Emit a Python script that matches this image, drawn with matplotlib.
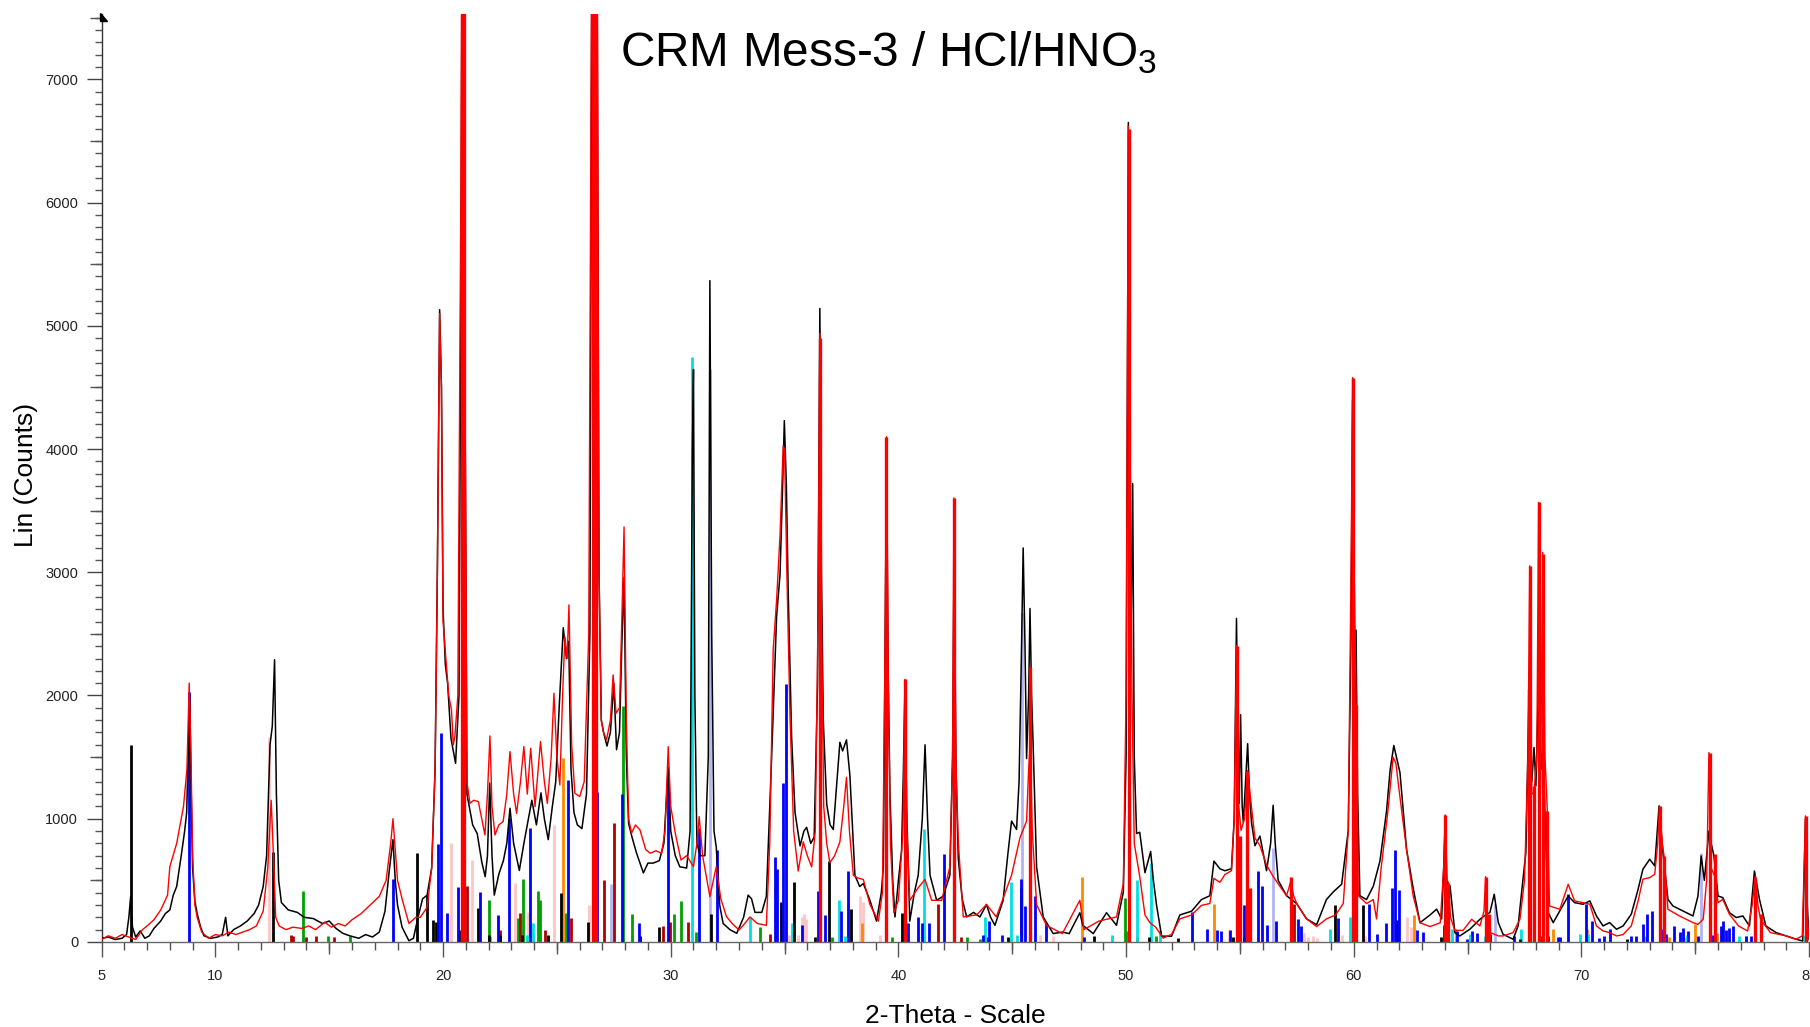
import matplotlib.pyplot as plt
from matplotlib.ticker import MultipleLocator, FixedLocator, NullLocator
from matplotlib.patches import Polygon

plt.rcParams['font.family'] = ['Liberation Sans', 'DejaVu Sans']
plt.rcParams['mathtext.default'] = 'regular'

# measured scan (black), (2theta, counts)
black_scan = [
    (5.0, 30), (5.3, 40), (5.6, 20), (5.9, 30), (6.1, 60), (6.2, 200), (6.28, 370), (6.36, 120),
    (6.5, 40), (6.7, 90), (6.9, 30), (7.1, 50), (7.3, 110), (7.6, 170), (7.8, 230), (8.0, 260),
    (8.15, 380), (8.3, 450), (8.5, 700), (8.65, 900), (8.74, 1050), (8.8, 1500), (8.87, 2000),
    (8.93, 1300), (9.0, 600), (9.1, 330), (9.2, 230), (9.35, 120), (9.5, 50), (9.8, 30),
    (10.1, 40), (10.3, 60), (10.45, 200), (10.55, 50), (10.8, 100), (11.1, 130), (11.4, 170),
    (11.7, 230), (11.9, 300), (12.1, 450), (12.25, 700), (12.4, 1600), (12.5, 1750), (12.6, 2290),
    (12.68, 1200), (12.78, 500), (12.9, 320), (13.2, 260), (13.6, 240), (13.9, 200), (14.3, 190),
    (14.7, 150), (15.0, 170), (15.3, 110), (15.6, 70), (15.9, 50), (16.3, 30), (16.6, 60),
    (16.9, 40), (17.2, 80), (17.45, 250), (17.65, 600), (17.8, 830), (17.9, 500), (18.0, 300),
    (18.2, 120), (18.5, 10), (18.7, 30), (18.9, 200), (19.1, 350), (19.3, 380), (19.5, 600),
    (19.65, 1400), (19.75, 3000), (19.85, 5130), (19.93, 4500), (20.0, 2700), (20.1, 2250),
    (20.2, 2100), (20.35, 1650), (20.55, 1450), (20.7, 2000), (20.8, 6000), (20.86, 9500),
    (20.95, 5000), (21.05, 1200), (21.3, 950), (21.5, 880), (21.7, 650), (21.85, 530),
    (21.95, 700), (22.05, 1290), (22.15, 700), (22.25, 380), (22.45, 550), (22.65, 660),
    (22.8, 800), (22.94, 1085), (23.1, 800), (23.35, 580), (23.55, 800), (23.75, 1000),
    (23.9, 1150), (24.1, 950), (24.3, 1210), (24.45, 1000), (24.62, 830), (24.8, 1100),
    (24.95, 1300), (25.1, 1900), (25.28, 2550), (25.42, 2300), (25.52, 2440), (25.62, 1400),
    (25.75, 1050), (25.9, 950), (26.1, 920), (26.3, 1200), (26.45, 2500), (26.55, 9000),
    (26.65, 15000), (26.75, 9000), (26.85, 3000), (26.95, 1800), (27.05, 1700), (27.2, 1590),
    (27.35, 1700), (27.5, 2100), (27.62, 1560), (27.75, 1700), (27.85, 2400), (27.95, 2960),
    (28.05, 1500), (28.15, 960), (28.3, 850), (28.5, 720), (28.8, 560), (29.0, 640),
    (29.23, 640), (29.5, 660), (29.7, 800), (29.89, 1420), (30.0, 900), (30.2, 700),
    (30.4, 610), (30.7, 600), (30.85, 900), (30.95, 4000), (31.0, 4645), (31.06, 2000),
    (31.15, 800), (31.3, 700), (31.5, 700), (31.65, 1500), (31.72, 5366), (31.8, 2500),
    (31.9, 900), (32.0, 770), (32.15, 300), (32.3, 150), (32.6, 100), (32.9, 70), (33.2, 200),
    (33.4, 380), (33.55, 350), (33.7, 240), (34.0, 240), (34.2, 370), (34.43, 1490),
    (34.65, 2640), (34.8, 2980), (34.9, 3600), (34.99, 4230), (35.08, 3700), (35.16, 2840),
    (35.31, 1660), (35.46, 1050), (35.68, 780), (35.85, 900), (35.97, 930), (36.15, 800),
    (36.3, 850), (36.45, 2100), (36.55, 5140), (36.62, 3000), (36.7, 1800), (36.85, 1120),
    (37.0, 950), (37.14, 913), (37.3, 1300), (37.43, 1620), (37.55, 1550), (37.72, 1640),
    (37.87, 1350), (38.09, 540), (38.3, 450), (38.46, 474), (38.75, 338), (39.04, 169),
    (39.25, 400), (39.34, 609), (39.42, 2500), (39.48, 3950), (39.55, 2200), (39.63, 1200),
    (39.75, 500), (39.85, 203), (40.0, 500), (40.14, 744), (40.22, 1400), (40.29, 2100),
    (40.36, 1100), (40.5, 169), (40.7, 400), (40.87, 541), (41.05, 1000), (41.17, 1600),
    (41.28, 1000), (41.39, 541), (41.68, 338), (41.97, 372), (42.26, 541), (42.38, 1500),
    (42.45, 3210), (42.53, 1400), (42.63, 677), (42.8, 350), (43.0, 203), (43.3, 240),
    (43.58, 203), (43.87, 304), (44.05, 200), (44.24, 135), (44.6, 338), (44.8, 700),
    (44.97, 981), (45.19, 913), (45.3, 1300), (45.4, 2300), (45.48, 3197), (45.56, 2400),
    (45.63, 1488), (45.72, 2000), (45.78, 2706), (45.85, 2000), (45.92, 1590), (46.07, 609),
    (46.36, 203), (46.8, 68), (47.2, 80), (47.5, 68), (47.97, 237), (48.1, 135), (48.56, 68),
    (49.14, 237), (49.58, 135), (49.88, 406), (50.0, 1500), (50.1, 6650), (50.2, 2200),
    (50.29, 3720), (50.36, 1500), (50.46, 880), (50.6, 890), (50.83, 562), (51.08, 734),
    (51.2, 500), (51.34, 297), (51.56, 47), (52.0, 47), (52.36, 219), (52.88, 250),
    (53.31, 344), (53.68, 375), (53.86, 656), (54.12, 594), (54.34, 578), (54.63, 594),
    (54.75, 1000), (54.85, 2625), (54.92, 1500), (54.97, 1125), (55.03, 1844), (55.1, 1100),
    (55.15, 969), (55.25, 1300), (55.34, 1609), (55.42, 1200), (55.51, 969), (55.66, 781),
    (55.88, 859), (56.17, 578), (56.35, 800), (56.46, 1109), (56.55, 800), (56.68, 500),
    (57.05, 375), (57.49, 312), (57.93, 187), (58.37, 140), (58.8, 344), (59.1, 406),
    (59.47, 469), (59.76, 906), (59.88, 2500), (59.95, 4400), (60.02, 1500), (60.1, 2531),
    (60.17, 1200), (60.27, 375), (60.56, 344), (60.86, 453), (61.15, 656), (61.44, 1062),
    (61.6, 1400), (61.76, 1594), (61.9, 1480), (62.03, 1375), (62.32, 750), (62.61, 437),
    (62.91, 156), (63.35, 219), (63.64, 266), (63.86, 187), (63.95, 600), (64.02, 1000),
    (64.08, 500), (64.15, 453), (64.23, 455), (64.44, 76), (64.66, 49), (65.1, 103),
    (65.54, 184), (65.83, 225), (65.98, 238), (66.17, 387), (66.35, 157), (66.56, 62),
    (67.0, 22), (67.22, 130), (67.41, 468), (67.56, 725), (67.7, 2024), (67.82, 1300),
    (67.92, 1578), (68.0, 1266), (68.14, 2280), (68.22, 1400), (68.32, 1580), (68.42, 900),
    (68.54, 238), (68.76, 157), (69.05, 252), (69.42, 373), (69.7, 319), (70.07, 306),
    (70.37, 333), (70.66, 211), (70.95, 130), (71.24, 157), (71.54, 103), (71.83, 130),
    (72.19, 225), (72.49, 428), (72.7, 590), (73.0, 671), (73.22, 617), (73.41, 1104),
    (73.5, 900), (73.58, 725), (73.8, 346), (74.02, 292), (74.31, 265), (74.61, 238),
    (74.9, 211), (75.12, 373), (75.26, 698), (75.4, 500), (75.6, 900), (75.7, 800),
    (75.82, 698), (76.0, 373), (76.21, 360), (76.5, 238), (76.8, 198), (77.09, 211),
    (77.38, 130), (77.6, 576), (77.82, 346), (78.1, 130), (78.55, 76), (78.99, 49),
    (79.43, 22), (79.72, 8), (79.84, 1000), (79.92, 300), (80.0, 20),
]

# second scan (red)
red_scan = [
    (5.0, 20), (5.3, 50), (5.6, 30), (5.9, 60), (6.2, 40), (6.5, 20), (6.8, 100), (7.0, 130),
    (7.3, 180), (7.6, 260), (7.9, 380), (8.0, 611), (8.3, 800), (8.6, 1100), (8.75, 1400),
    (8.85, 2100), (8.92, 1600), (9.0, 700), (9.1, 300), (9.2, 200), (9.4, 80), (9.7, 30),
    (10.0, 60), (10.3, 50), (10.6, 80), (10.9, 60), (11.2, 80), (11.5, 100), (11.8, 130),
    (12.1, 250), (12.3, 600), (12.45, 1150), (12.55, 700), (12.65, 200), (12.8, 130),
    (13.1, 100), (13.4, 120), (13.8, 110), (14.1, 130), (14.4, 100), (14.8, 160), (15.1, 120),
    (15.4, 150), (15.7, 130), (16.0, 180), (16.4, 230), (16.8, 300), (17.2, 370), (17.5, 500),
    (17.7, 800), (17.8, 1000), (17.9, 750), (18.0, 500), (18.2, 350), (18.5, 150), (18.8, 200),
    (19.0, 200), (19.3, 280), (19.5, 600), (19.65, 1400), (19.75, 3000), (19.85, 5100),
    (19.93, 4500), (20.0, 2600), (20.15, 2235), (20.25, 2000), (20.37, 1883), (20.45, 1600),
    (20.52, 1667), (20.65, 2000), (20.78, 6000), (20.86, 9500), (20.95, 5000), (21.05, 1300),
    (21.18, 1125), (21.35, 1150), (21.55, 1139), (21.7, 1000), (21.84, 868), (21.95, 1200),
    (22.06, 1672), (22.15, 1100), (22.28, 868), (22.45, 950), (22.64, 977), (22.8, 1200),
    (22.94, 1545), (23.1, 1200), (23.23, 1044), (23.4, 1300), (23.55, 1585), (23.7, 1200),
    (23.85, 1572), (24.04, 1098), (24.18, 1400), (24.28, 1626), (24.45, 1300), (24.58, 1125),
    (24.75, 1500), (24.87, 2018), (25.0, 1500), (25.13, 1274), (25.25, 2000), (25.35, 2478),
    (25.45, 2300), (25.53, 2735), (25.65, 1600), (25.79, 1207), (26.0, 1180), (26.2, 1300),
    (26.4, 2500), (26.55, 9000), (26.65, 15000), (26.75, 9000), (26.85, 3000), (26.95, 1800),
    (27.05, 1700), (27.18, 1640), (27.35, 1800), (27.47, 2167), (27.6, 1856), (27.75, 1900),
    (27.85, 2600), (27.95, 3367), (28.05, 1800), (28.15, 1000), (28.28, 882), (28.45, 950),
    (28.65, 909), (28.9, 750), (29.1, 720), (29.35, 740), (29.6, 720), (29.75, 900),
    (29.89, 1585), (30.0, 1100), (30.2, 882), (30.45, 665), (30.7, 700), (31.0, 611),
    (31.15, 800), (31.25, 1017), (31.4, 700), (31.72, 368), (32.0, 611), (32.2, 350),
    (32.45, 205), (32.7, 150), (33.0, 97), (33.25, 150), (33.48, 203), (33.8, 150),
    (34.2, 135), (34.35, 800), (34.5, 2368), (34.65, 2774), (34.8, 3300), (34.94, 4026),
    (35.0, 4000), (35.1, 3000), (35.24, 1827), (35.4, 900), (35.6, 575), (35.82, 812),
    (36.0, 700), (36.19, 609), (36.35, 900), (36.46, 2500), (36.55, 4939), (36.62, 2600),
    (36.72, 1100), (36.85, 800), (36.99, 643), (37.2, 700), (37.43, 812), (37.6, 1100),
    (37.72, 1336), (37.85, 900), (38.02, 541), (38.2, 520), (38.46, 507), (38.75, 304),
    (39.12, 169), (39.3, 400), (39.42, 2500), (39.48, 4100), (39.55, 2200), (39.65, 800),
    (39.8, 237), (40.0, 338), (40.2, 900), (40.29, 2131), (40.38, 900), (40.5, 338),
    (40.87, 440), (41.17, 507), (41.46, 338), (41.9, 338), (42.26, 609), (42.38, 1500),
    (42.44, 3603), (42.52, 1500), (42.63, 812), (42.85, 203), (43.44, 220), (43.87, 304),
    (44.3, 203), (44.97, 541), (45.34, 846), (45.63, 981), (45.72, 1400), (45.79, 1620),
    (45.88, 900), (46.07, 304), (46.5, 135), (47.2, 68), (47.97, 338), (48.15, 100),
    (48.8, 169), (49.58, 203), (49.88, 474), (50.0, 2000), (50.1, 6620), (50.18, 4000),
    (50.26, 2000), (50.36, 800), (50.6, 531), (50.83, 219), (51.05, 156), (51.3, 120),
    (51.63, 31), (52.0, 62), (52.36, 187), (52.88, 219), (53.31, 297), (53.68, 312),
    (53.86, 516), (54.12, 484), (54.34, 547), (54.63, 578), (54.75, 1000), (54.85, 2406),
    (54.95, 1100), (55.05, 906), (55.2, 1000), (55.34, 1390), (55.51, 1094), (55.66, 844),
    (55.88, 781), (56.17, 625), (56.46, 531), (56.75, 453), (57.05, 375), (57.23, 490),
    (57.35, 380), (57.49, 312), (57.93, 187), (58.37, 125), (58.8, 187), (59.2, 219),
    (59.54, 312), (59.76, 900), (59.88, 3000), (59.95, 4580), (60.02, 3000), (60.1, 2000),
    (60.2, 375), (60.56, 312), (60.86, 344), (61.0, 187), (61.2, 594), (61.5, 1062),
    (61.73, 1500), (61.85, 1450), (62.0, 1219), (62.32, 750), (62.61, 375), (62.91, 156),
    (63.35, 125), (63.8, 156), (63.95, 600), (64.02, 1031), (64.1, 500), (64.15, 484),
    (64.25, 200), (64.44, 94), (64.8, 94), (65.18, 184), (65.54, 130), (65.72, 250),
    (65.79, 530), (65.86, 200), (66.0, 76), (66.35, 49), (66.56, 49), (67.0, 76), (67.3, 184),
    (67.5, 500), (67.65, 1500), (67.73, 3052), (67.82, 1200), (67.92, 1212), (68.04, 1500),
    (68.12, 3566), (68.2, 1200), (68.3, 3160), (68.4, 1500), (68.5, 1077), (68.6, 292),
    (69.05, 265), (69.42, 468), (69.7, 333), (70.07, 319), (70.37, 306), (70.66, 130),
    (70.95, 89), (71.24, 76), (71.54, 49), (71.83, 60), (72.19, 130), (72.49, 333),
    (72.7, 509), (73.0, 522), (73.22, 549), (73.35, 800), (73.43, 1104), (73.55, 800),
    (73.63, 698), (73.8, 265), (74.31, 211), (74.9, 157), (75.12, 143), (75.35, 184),
    (75.5, 500), (75.6, 1537), (75.7, 600), (75.85, 536), (76.0, 319), (76.21, 346),
    (76.5, 225), (76.9, 130), (77.3, 89), (77.5, 300), (77.64, 536), (77.75, 300),
    (77.87, 184), (78.3, 76), (78.99, 50), (79.43, 22), (79.7, 50), (79.84, 1023),
    (79.92, 200), (80.0, 20),
]

# reference patterns (sticks), (2theta, counts)
quartz_sticks = [
    (20.84, 9000), (20.92, 9000), (26.58, 9000), (26.72, 9000), (36.54, 4900), (39.47, 4100),
    (40.29, 2130), (42.45, 3600), (45.79, 2230), (50.14, 6600), (54.87, 2400), (55.0, 860),
    (55.33, 1390), (55.45, 440), (57.23, 525), (59.96, 4580), (60.1, 1920), (64.03, 1030),
    (64.15, 480), (65.79, 530), (65.94, 225), (67.68, 2050), (67.73, 3050), (67.92, 1266),
    (68.12, 3566), (68.3, 3150), (68.51, 1063), (73.43, 1104), (73.63, 700), (75.64, 1537),
    (75.85, 712), (77.64, 522), (77.87, 225), (79.86, 1023),
]
blue_sticks = [
    (8.84, 2030), (17.78, 508), (19.8, 792), (19.92, 1699), (20.18, 232), (20.67, 449),
    (21.62, 408), (22.42, 219), (22.91, 1004), (23.83, 922), (25.5, 1315), (26.66, 1071),
    (26.76, 1220), (27.88, 1198), (28.6, 157), (29.89, 1355), (31.25, 922), (32.03, 746),
    (34.56, 693), (34.68, 592), (34.94, 1286), (35.05, 2097), (35.78, 135), (36.48, 413),
    (36.78, 220), (37.5, 254), (37.8, 575), (40.43, 152), (40.87, 203), (41.02, 150),
    (41.35, 150), (42.01, 710), (43.7, 60), (43.98, 169), (44.55, 60), (45.37, 507),
    (45.55, 288), (45.99, 372), (46.5, 150), (48.15, 40), (52.88, 244), (53.54, 109),
    (54.0, 100), (54.15, 90), (54.58, 95), (55.18, 297), (55.8, 578), (55.95, 453),
    (56.17, 140), (56.6, 172), (57.53, 187), (57.7, 130), (59.3, 194), (60.0, 100),
    (60.68, 312), (61.0, 62), (61.41, 156), (61.68, 437), (61.79, 750), (62.0, 422),
    (62.8, 100), (63.05, 80), (63.96, 140), (64.54, 89), (64.97, 27), (65.2, 89), (65.4, 76),
    (65.98, 62), (67.04, 49), (68.26, 49), (68.55, 49), (68.96, 40), (69.06, 40), (69.42, 387),
    (70.22, 306), (70.48, 170), (70.78, 35), (71.0, 49), (71.24, 103), (72.19, 49),
    (72.41, 49), (72.7, 143), (72.88, 225), (73.1, 252), (73.5, 108), (73.7, 68),
    (74.06, 130), (74.31, 84), (74.45, 116), (74.7, 89), (75.12, 45), (75.78, 60),
    (76.12, 130), (76.21, 170), (76.36, 97), (76.48, 116), (76.65, 130), (77.25, 50),
    (77.45, 45), (77.87, 60),
]
black_sticks = [
    (6.28, 1600), (12.55, 733), (18.84, 720), (19.3, 381), (19.55, 178), (19.7, 165),
    (20.7, 97), (21.52, 273), (22.03, 60), (22.5, 60), (23.45, 60), (24.6, 60), (25.18, 400),
    (26.35, 165), (28.65, 50), (29.48, 119), (31.75, 227), (34.84, 321), (35.43, 490),
    (36.35, 40), (36.96, 660), (37.92, 270), (40.14, 237), (43.95, 40), (44.8, 40),
    (45.4, 440), (48.6, 50), (51.0, 40), (52.3, 30), (54.7, 40), (55.2, 40), (59.17, 297),
    (60.39, 297), (61.92, 180), (63.85, 40), (66.0, 40), (67.3, 20), (72.0, 20),
]
pink_sticks = [
    (12.36, 1666), (19.86, 346), (20.33, 800), (21.25, 665), (23.14, 476), (23.75, 246),
    (24.88, 950), (26.42, 300), (28.31, 60), (28.6, 80), (35.0, 169), (35.2, 60),
    (35.58, 60), (35.75, 200), (35.85, 230), (35.92, 190), (38.3, 372), (38.45, 321),
    (39.2, 60), (46.2, 60), (46.8, 50), (53.98, 60), (54.5, 100), (56.6, 100), (57.6, 80),
    (57.8, 70), (58.0, 40), (58.2, 50), (58.4, 30), (59.5, 60), (60.5, 50), (62.32, 203),
    (62.52, 120),
]
green_sticks = [
    (13.86, 413), (14.96, 50), (15.9, 50), (22.03, 340), (23.27, 192), (23.52, 508),
    (24.15, 416), (24.27, 340), (25.42, 232), (27.91, 1915), (28.31, 227), (30.15, 227),
    (30.46, 335), (31.12, 80), (33.92, 118), (37.1, 40), (39.7, 40), (43.0, 40), (43.57, 25),
    (49.95, 359), (50.0, 90), (51.3, 50),
]
darkred_sticks = [
    (13.3, 60), (13.4, 50), (14.0, 40), (14.4, 50), (15.2, 40), (21.06, 454), (22.5, 97),
    (23.38, 232), (24.46, 97), (25.62, 192), (27.07, 503), (27.5, 968), (29.65, 130),
    (29.95, 165), (30.75, 165), (34.35, 68), (41.75, 304), (42.76, 40), (50.47, 40),
    (57.37, 312),
]
cyan_sticks = [
    (22.06, 50), (23.7, 60), (23.95, 151), (30.95, 4750), (33.48, 203), (35.32, 152),
    (37.37, 338), (37.65, 50), (41.12, 913), (43.82, 203), (44.94, 490), (45.2, 60),
    (49.4, 60), (50.49, 500), (51.08, 640), (51.5, 100), (58.95, 109), (59.83, 203),
    (64.3, 109), (64.49, 103), (65.1, 62), (65.75, 50), (67.34, 103), (69.94, 62),
    (70.3, 68), (72.82, 50), (74.65, 60), (76.9, 50), (77.25, 50), (79.8, 60),
]
orange_sticks = [
    (25.29, 1490), (37.8, 304), (38.4, 152), (48.05, 524), (53.87, 312), (55.02, 312),
    (62.64, 219), (68.76, 108), (70.26, 108), (73.85, 40), (74.99, 143), (75.95, 76),
]
lavender_sticks = [
    (27.36, 470), (31.72, 4650), (45.45, 2673), (56.46, 766), (66.2, 306), (73.08, 40),
    (74.5, 40), (75.26, 725),
]

fig = plt.figure(figsize=(18.10, 10.27), dpi=100)
ax = fig.add_axes([0.0561, 0.0828, 0.9434, 0.9036])

def draw_sticks(data, colour, lw=2.0, z=2):
    xs = [p[0] for p in data]
    ys = [p[1] for p in data]
    ax.vlines(xs, 0, ys, colors=colour, linewidth=lw, capstyle='butt', zorder=z)

draw_sticks(pink_sticks, '#ffc4c4')
draw_sticks(lavender_sticks, '#b4b4f4')
draw_sticks(green_sticks, '#00a000')
draw_sticks(darkred_sticks, '#b00000')
draw_sticks(orange_sticks, '#ff8800')
draw_sticks(cyan_sticks, '#00e0e0')
draw_sticks(black_sticks, '#000000')
draw_sticks(blue_sticks, '#0000ff')

ax.plot([p[0] for p in black_scan], [p[1] for p in black_scan], color='black', lw=1.1, zorder=3)
ax.plot([p[0] for p in red_scan], [p[1] for p in red_scan], color='#ff0000', lw=1.0, zorder=4)
draw_sticks(quartz_sticks, '#ff0000', lw=2.4, z=5)

ax.set_xlim(5, 80)
ax.set_ylim(0, 7530)
for s in ['top', 'right']:
    ax.spines[s].set_visible(False)
ax.spines['left'].set_color('#333333')
ax.spines['bottom'].set_color('#666666')
ax.spines['left'].set_linewidth(1.0)
ax.spines['bottom'].set_linewidth(1.0)

ax.xaxis.set_major_locator(FixedLocator([5, 10, 20, 30, 40, 50, 60, 70, 80]))
ax.xaxis.set_minor_locator(MultipleLocator(1))
ax.yaxis.set_major_locator(MultipleLocator(1000))
ax.yaxis.set_minor_locator(MultipleLocator(100))
ax.tick_params(axis='x', which='major', length=10.8, width=1, color='#555555',
               labelsize=10.5, pad=9, labelcolor='#222222')
ax.tick_params(axis='x', which='minor', length=5.5, width=1, color='#555555')
ax.tick_params(axis='y', which='major', length=10.8, width=1, color='#444444',
               labelsize=10.5, pad=6, labelcolor='#222222')
ax.tick_params(axis='y', which='minor', length=5, width=1, color='#555555')

# medium ticks at the halves
secx = ax.secondary_xaxis('bottom')
secx.set_xticks(list(range(15, 80, 10)))
secx.set_xticklabels([])
secx.xaxis.set_minor_locator(NullLocator())
secx.tick_params(length=8.4, width=1, color='#555555')
secx.spines['bottom'].set_visible(False)

secy = ax.secondary_yaxis('left')
secy.set_yticks(list(range(500, 7600, 1000)))
secy.set_yticklabels([])
secy.yaxis.set_minor_locator(NullLocator())
secy.tick_params(length=8.6, width=1, color='#555555')
secy.spines['left'].set_visible(False)

# little arrow head on top of the y axis
fig.patches.append(Polygon([[1.005, 10.145], [1.005, 10.06], [1.07, 10.06]], closed=True,
                           transform=fig.dpi_scale_trans, color='black'))

fig.text(620 / 1810, 1 - 66 / 1027, 'CRM Mess-3 / HCl/HNO$_3$', fontsize=34.4,
         ha='left', va='baseline')
fig.text(26 / 1810, 1 - 475 / 1027, 'Lin (Counts)', fontsize=19, rotation=90,
         ha='center', va='center')
fig.text(955 / 1810, 1 - 1023 / 1027, '2-Theta - Scale', fontsize=19,
         ha='center', va='baseline')

fig.savefig('out.png', dpi=100)
